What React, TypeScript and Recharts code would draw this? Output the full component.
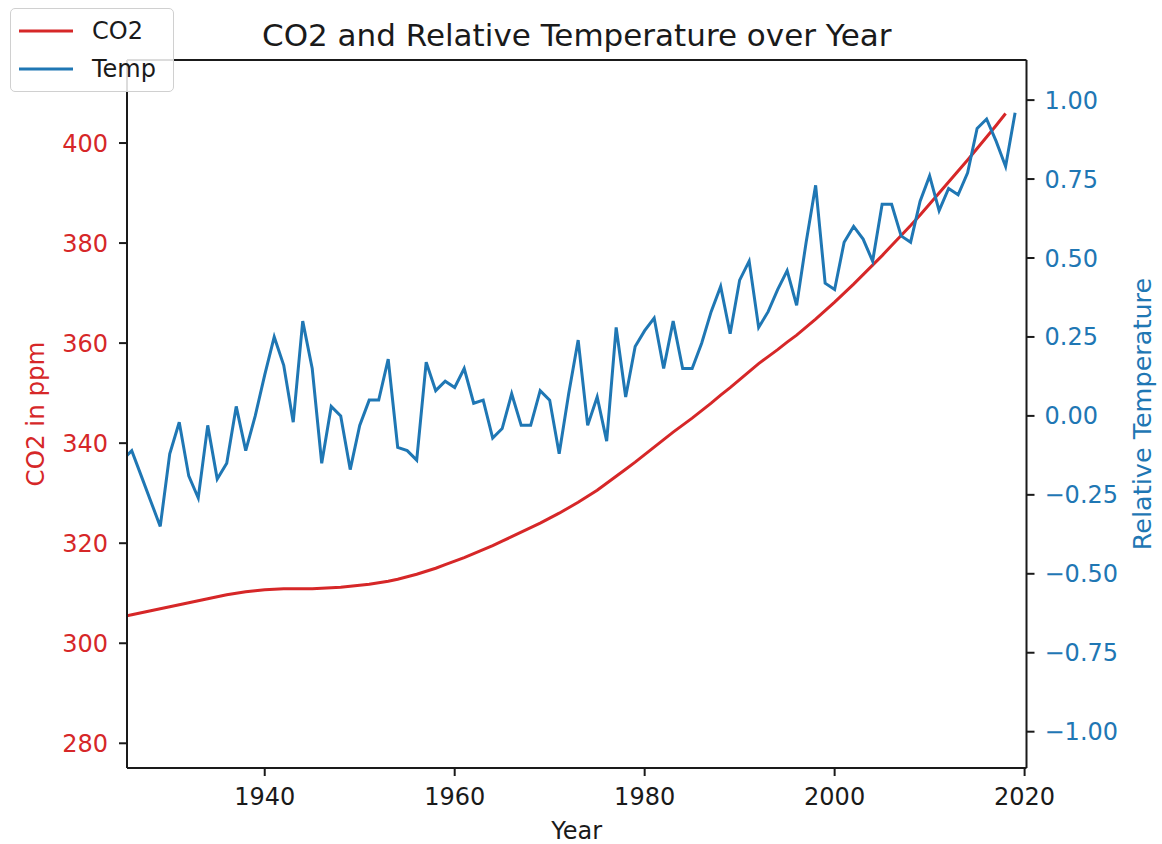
import { ComposedChart, Line, XAxis, YAxis, ReferenceLine, Legend } from 'recharts';

const years = [
  1925, 1926, 1927, 1928, 1929, 1930, 1931, 1932, 1933, 1934, 1935, 1936, 1937, 1938, 1939,
  1940, 1941, 1942, 1943, 1944, 1945, 1946, 1947, 1948, 1949, 1950, 1951, 1952, 1953,
  1954, 1955, 1956, 1957, 1958, 1959, 1960, 1961, 1962, 1963, 1964, 1965, 1966, 1967,
  1968, 1969, 1970, 1971, 1972, 1973, 1974, 1975, 1976, 1977, 1978, 1979, 1980, 1981,
  1982, 1983, 1984, 1985, 1986, 1987, 1988, 1989, 1990, 1991, 1992, 1993, 1994, 1995,
  1996, 1997, 1998, 1999, 2000, 2001, 2002, 2003, 2004, 2005, 2006, 2007, 2008, 2009,
  2010, 2011, 2012, 2013, 2014, 2015, 2016, 2017, 2018, 2019,
];

// CO2 in ppm, 1925-2018
const co2Ppm = [
  305.3, 305.7, 306.1, 306.5, 306.9, 307.3, 307.7, 308.1, 308.5, 308.9, 309.3, 309.7, 310.0, 310.3, 310.5,
  310.7, 310.8, 310.9, 310.9, 310.9, 310.9, 311.0, 311.1, 311.2, 311.4, 311.6, 311.8, 312.1, 312.4,
  312.8, 313.3, 313.8, 314.4, 315.0, 315.7, 316.4, 317.1, 317.9, 318.7, 319.5, 320.4, 321.3, 322.2,
  323.1, 324.0, 325.0, 326.0, 327.1, 328.2, 329.4, 330.6, 332.0, 333.4, 334.8, 336.2, 337.7, 339.2,
  340.7, 342.2, 343.6, 345.0, 346.5, 348.0, 349.6, 351.1, 352.7, 354.3, 355.9, 357.3, 358.7, 360.2,
  361.6, 363.2, 364.8, 366.5, 368.2, 370.0, 371.8, 373.7, 375.6, 377.5, 379.5, 381.5, 383.5, 385.6,
  387.8, 390.0, 392.2, 394.4, 396.6, 398.9, 401.2, 403.5, 405.9,
];

// relative temperature, 1925-2019
const tempAnomaly = [
  -0.14, -0.11, -0.19, -0.27, -0.35, -0.12, -0.02, -0.19, -0.26, -0.03, -0.2, -0.15, 0.03, -0.11, 0.0,
  0.13, 0.25, 0.16, -0.02, 0.3, 0.15, -0.15, 0.03, 0.0, -0.17, -0.03, 0.05, 0.05, 0.18,
  -0.1, -0.11, -0.14, 0.17, 0.08, 0.11, 0.09, 0.15, 0.04, 0.05, -0.07, -0.04, 0.07, -0.03,
  -0.03, 0.08, 0.05, -0.12, 0.07, 0.24, -0.03, 0.06, -0.08, 0.28, 0.06, 0.22, 0.27, 0.31,
  0.15, 0.3, 0.15, 0.15, 0.23, 0.33, 0.41, 0.26, 0.43, 0.49, 0.28, 0.33, 0.4, 0.46,
  0.35, 0.55, 0.73, 0.42, 0.4, 0.55, 0.6, 0.56, 0.49, 0.67, 0.67, 0.57, 0.55, 0.68,
  0.76, 0.65, 0.72, 0.7, 0.77, 0.91, 0.94, 0.87, 0.79, 0.96,
];

const yearTicks = [1940, 1960, 1980, 2000, 2020];
const co2Ticks = [280, 300, 320, 340, 360, 380, 400];
const tempTicks = [-1, -0.75, -0.5, -0.25, 0, 0.25, 0.5, 0.75, 1];

const RED = '#d62728';
const BLUE = '#1f77b4';
const INK = '#1a1a1a';
const FONT = 'DejaVu Sans';

const CO2_DOMAIN: [number, number] = [275.06, 416.6];
const TEMP_DOMAIN: [number, number] = [-1.115, 1.127];

const data = years.map((year, i) => ({
  year,
  co2: i < co2Ppm.length ? co2Ppm[i] : null,
  temp: tempAnomaly[i],
}));

function fmtTemp(v: number) {
  return v.toFixed(2).replace('-', '\u2212');
}

function LegendBox() {
  const rows = [
    { name: 'CO2', color: RED },
    { name: 'Temp', color: BLUE },
  ];
  return (
    <div
      style={{
        position: 'relative',
        width: 164,
        height: 84,
        boxSizing: 'border-box',
        border: '1.5px solid #d0d0d0',
        borderRadius: 5,
        background: 'rgba(255,255,255,0.85)',
        fontFamily: FONT,
        fontSize: 24,
        color: INK,
      }}
    >
      {rows.map((r, i) => (
        <div key={r.name} style={{ position: 'absolute', left: 0, top: 22 + i * 38 - 15, height: 30, width: '100%' }}>
          <svg width={70} height={30} style={{ position: 'absolute', left: 0, top: 0 }}>
            <line x1={8} x2={62} y1={15} y2={15} stroke={r.color} strokeWidth={3} />
          </svg>
          <span style={{ position: 'absolute', left: 81, top: 0, lineHeight: '30px' }}>{r.name}</span>
        </div>
      ))}
    </div>
  );
}

export default function App() {
  return (
    <div style={{ position: 'absolute', left: 0, top: 0, width: 1162, height: 844, background: '#fff' }}>
      <ComposedChart
        width={1162}
        height={844}
        data={data}
        margin={{ top: 60, right: 0, bottom: 0, left: 0 }}
        style={{ fontFamily: FONT }}
      >
        <XAxis
          dataKey="year"
          type="number"
          domain={[1925.5, 2020.2]}
          allowDataOverflow
          ticks={yearTicks}
          height={76}
          tickSize={8}
          tickMargin={12}
          axisLine={{ stroke: INK, strokeWidth: 2 }}
          tickLine={{ stroke: INK, strokeWidth: 2 }}
          tick={{ fontSize: 24, fill: INK, fontFamily: FONT }}
          label={{
            content: (p: any) => (
              <text
                x={p.viewBox.x + p.viewBox.width / 2}
                y={p.viewBox.y + 63}
                textAnchor="middle"
                dominantBaseline="central"
                fontSize={24}
                fontFamily={FONT}
                fill={INK}
              >
                Year
              </text>
            ),
          }}
        />
        <YAxis
          yAxisId="co2"
          orientation="left"
          width={127}
          domain={CO2_DOMAIN}
          allowDataOverflow
          ticks={co2Ticks}
          tickSize={8}
          tickMargin={11}
          axisLine={{ stroke: INK, strokeWidth: 2 }}
          tickLine={{ stroke: INK, strokeWidth: 2 }}
          tick={{ fontSize: 24, fill: RED, fontFamily: FONT }}
          label={{
            content: (p: any) => {
              const x = p.viewBox.x + 35;
              const y = p.viewBox.y + p.viewBox.height / 2;
              return (
                <text
                  x={x}
                  y={y}
                  transform={`rotate(-90, ${x}, ${y})`}
                  textAnchor="middle"
                  dominantBaseline="central"
                  fontSize={24.5}
                  fontFamily={FONT}
                  fill={RED}
                >
                  CO2 in ppm
                </text>
              );
            },
          }}
        />
        <YAxis
          yAxisId="temp"
          orientation="right"
          width={135.5}
          domain={TEMP_DOMAIN}
          allowDataOverflow
          ticks={tempTicks}
          tickFormatter={fmtTemp}
          tickSize={8}
          tickMargin={10}
          axisLine={{ stroke: INK, strokeWidth: 2 }}
          tickLine={{ stroke: INK, strokeWidth: 2 }}
          tick={{ fontSize: 24, fill: BLUE, fontFamily: FONT }}
          label={{
            content: (p: any) => {
              const x = p.viewBox.x + 115;
              const y = p.viewBox.y + p.viewBox.height / 2;
              return (
                <text
                  x={x}
                  y={y}
                  transform={`rotate(-90, ${x}, ${y})`}
                  textAnchor="middle"
                  dominantBaseline="central"
                  fontSize={25.5}
                  fontFamily={FONT}
                  fill={BLUE}
                >
                  Relative Temperature
                </text>
              );
            },
          }}
        />
        {/* top spine + title */}
        <ReferenceLine
          yAxisId="co2"
          y={CO2_DOMAIN[1]}
          stroke={INK}
          strokeWidth={2}
          label={{
            content: (p: any) => (
              <text
                x={p.viewBox.x + p.viewBox.width / 2}
                y={p.viewBox.y - 25}
                textAnchor="middle"
                dominantBaseline="central"
                fontSize={31}
                fontFamily={FONT}
                fill={INK}
              >
                CO2 and Relative Temperature over Year
              </text>
            ),
          }}
        />
        <Line
          yAxisId="co2"
          dataKey="co2"
          name="CO2"
          type="linear"
          stroke={RED}
          strokeWidth={3}
          dot={false}
          isAnimationActive={false}
        />
        <Line
          yAxisId="temp"
          dataKey="temp"
          name="Temp"
          type="linear"
          stroke={BLUE}
          strokeWidth={3}
          dot={false}
          isAnimationActive={false}
        />
        <Legend
          layout="vertical"
          align="center"
          verticalAlign="middle"
          wrapperStyle={{ left: 10, top: 8, width: 164, height: 84 }}
          content={() => <LegendBox />}
        />
      </ComposedChart>
    </div>
  );
}
